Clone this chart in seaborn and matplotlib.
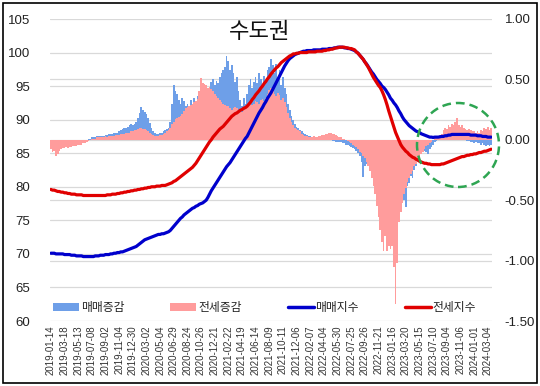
import matplotlib
matplotlib.use("Agg")
import matplotlib.pyplot as plt
import pandas as pd
import seaborn as sns
from matplotlib.patches import Ellipse, Rectangle, Patch
from matplotlib.lines import Line2D

# ---------------- data ----------------
tick_labels = [
    "2019-01-14", "2019-03-18", "2019-05-13", "2019-07-08", "2019-09-02", "2019-11-04",
    "2019-12-30", "2020-03-02", "2020-05-04", "2020-06-29", "2020-08-24", "2020-10-26",
    "2020-12-21", "2021-02-22", "2021-04-19", "2021-06-14", "2021-08-09", "2021-10-11",
    "2021-12-06", "2022-02-07", "2022-04-04", "2022-05-30", "2022-07-25", "2022-09-26",
    "2022-11-21", "2023-01-16", "2023-03-20", "2023-05-15", "2023-07-10", "2023-09-04",
    "2023-11-06", "2024-01-01", "2024-03-04",
]

# 매매지수 (left axis)
sale_idx = [
    70.1, 70.1, 70.1, 70.0, 70.0, 70.0, 70.0, 70.0, 69.9, 69.9,
    69.9, 69.9, 69.8, 69.8, 69.8, 69.7, 69.7, 69.7, 69.7, 69.6,
    69.6, 69.6, 69.6, 69.6, 69.6, 69.6, 69.7, 69.7, 69.7, 69.8,
    69.8, 69.8, 69.9, 69.9, 69.9, 70.0, 70.0, 70.1, 70.1, 70.2,
    70.2, 70.3, 70.3, 70.4, 70.5, 70.6, 70.7, 70.8, 70.9, 71.0,
    71.1, 71.3, 71.5, 71.7, 71.9, 72.1, 72.2, 72.3, 72.4, 72.5,
    72.6, 72.7, 72.8, 72.9, 72.9, 73.0, 73.0, 73.1, 73.2, 73.3,
    73.5, 73.8, 74.1, 74.4, 74.7, 75.0, 75.3, 75.5, 75.8, 76.0,
    76.2, 76.4, 76.6, 76.8, 76.9, 77.1, 77.2, 77.4, 77.5, 77.6,
    77.8, 78.0, 78.4, 78.9, 79.4, 79.8, 80.2, 80.6, 81.0, 81.4,
    81.8, 82.2, 82.6, 83.0, 83.3, 83.6, 84.0, 84.4, 84.8, 85.2,
    85.6, 86.0, 86.4, 86.8, 87.2, 87.5, 88.0, 88.5, 89.0, 89.5,
    90.0, 90.5, 91.0, 91.4, 91.8, 92.3, 92.7, 93.2, 93.6, 94.0,
    94.5, 95.0, 95.5, 96.0, 96.5, 97.0, 97.5, 98.0, 98.4, 98.8,
    99.1, 99.3, 99.5, 99.7, 99.8, 99.9, 100.0, 100.1, 100.2, 100.2,
    100.3, 100.3, 100.3, 100.3, 100.4, 100.4, 100.4, 100.4, 100.4, 100.5,
    100.5, 100.5, 100.5, 100.6, 100.6, 100.6, 100.7, 100.7, 100.8, 100.8,
    100.8, 100.8, 100.7, 100.7, 100.6, 100.6, 100.5, 100.4, 100.3, 100.1,
    99.9, 99.6, 99.3, 99.0, 98.6, 98.3, 97.9, 97.5, 97.1, 96.8,
    96.4, 96.0, 95.7, 95.4, 95.0, 94.8, 94.5, 94.1, 93.7, 93.2,
    92.9, 92.5, 92.2, 91.8, 91.3, 90.9, 90.4, 90.0, 89.7, 89.4,
    89.1, 88.9, 88.7, 88.5, 88.3, 88.2, 88.1, 87.9, 87.8, 87.7,
    87.6, 87.5, 87.4, 87.4, 87.35, 87.4, 87.4, 87.4, 87.45, 87.5,
    87.5, 87.6, 87.6, 87.7, 87.7, 87.8, 87.8, 87.8, 87.8, 87.8,
    87.8, 87.8, 87.8, 87.8, 87.8, 87.8, 87.7, 87.7, 87.7, 87.7,
    87.6, 87.6, 87.6, 87.5, 87.5, 87.5, 87.4, 87.4, 87.4,
]

# 전세지수 (left axis)
jeonse_idx = [
    79.6, 79.5, 79.5, 79.4, 79.3, 79.3, 79.2, 79.2, 79.1, 79.1,
    79.0, 79.0, 78.9, 78.9, 78.9, 78.8, 78.8, 78.8, 78.8, 78.7,
    78.7, 78.7, 78.7, 78.7, 78.7, 78.7, 78.7, 78.7, 78.7, 78.7,
    78.7, 78.7, 78.7, 78.8, 78.8, 78.8, 78.9, 78.9, 78.9, 79.0,
    79.0, 79.1, 79.1, 79.2, 79.2, 79.3, 79.3, 79.4, 79.4, 79.5,
    79.5, 79.6, 79.6, 79.7, 79.7, 79.8, 79.8, 79.9, 79.9, 80.0,
    80.0, 80.0, 80.1, 80.1, 80.1, 80.2, 80.2, 80.2, 80.3, 80.4,
    80.5, 80.6, 80.8, 80.9, 81.1, 81.3, 81.5, 81.7, 81.9, 82.1,
    82.3, 82.5, 82.7, 82.9, 83.2, 83.5, 83.9, 84.3, 84.7, 85.1,
    85.5, 85.9, 86.3, 86.7, 87.0, 87.4, 87.7, 88.0, 88.3, 88.6,
    88.8, 89.0, 89.3, 89.6, 89.9, 90.2, 90.5, 90.7, 90.9, 91.0,
    91.2, 91.4, 91.5, 91.7, 91.8, 92.0, 92.3, 92.6, 93.0, 93.3,
    93.7, 94.0, 94.3, 94.7, 95.0, 95.4, 95.7, 96.1, 96.4, 96.8,
    97.1, 97.4, 97.7, 97.9, 98.2, 98.5, 98.7, 98.9, 99.1, 99.3,
    99.5, 99.6, 99.8, 99.8, 99.9, 99.9, 100.0, 100.0, 100.0, 100.0,
    100.0, 100.1, 100.1, 100.1, 100.1, 100.1, 100.2, 100.2, 100.2, 100.2,
    100.3, 100.3, 100.4, 100.4, 100.5, 100.5, 100.6, 100.7, 100.7, 100.8,
    100.8, 100.8, 100.8, 100.7, 100.7, 100.6, 100.6, 100.5, 100.4, 100.1,
    99.9, 99.6, 99.3, 99.0, 98.6, 98.2, 97.8, 97.3, 96.8, 96.3,
    95.9, 95.5, 95.1, 94.8, 94.3, 93.7, 93.0, 92.2, 91.3, 90.5,
    89.7, 88.9, 88.1, 87.5, 86.9, 86.3, 85.9, 85.6, 85.3, 85.1,
    84.8, 84.6, 84.4, 84.3, 84.1, 84.0, 83.8, 83.7, 83.6, 83.5,
    83.5, 83.4, 83.4, 83.3, 83.3, 83.3, 83.3, 83.3, 83.3, 83.4,
    83.4, 83.5, 83.6, 83.7, 83.8, 83.9, 84.0, 84.1, 84.2, 84.3,
    84.4, 84.5, 84.5, 84.6, 84.7, 84.7, 84.8, 84.8, 84.9, 84.9,
    85.0, 85.1, 85.1, 85.2, 85.3, 85.3, 85.4, 85.5, 85.6,
]

# 매매증감 (right axis)
sale_chg = [
    -0.01, -0.02, -0.03, -0.04, -0.04, -0.05, -0.05, -0.05, -0.05, -0.04,
    -0.04, -0.04, -0.03, -0.03, -0.03, -0.02, -0.02, -0.02, -0.01, -0.01,
    -0.01, 0.00, 0.01, 0.01, 0.02, 0.02, 0.02, 0.03, 0.03, 0.03,
    0.03, 0.03, 0.04, 0.04, 0.05, 0.05, 0.05, 0.06, 0.06, 0.06,
    0.07, 0.08, 0.09, 0.10, 0.10, 0.11, 0.12, 0.13, 0.12, 0.13,
    0.15, 0.18, 0.22, 0.27, 0.25, 0.23, 0.21, 0.18, 0.14, 0.10,
    0.07, 0.06, 0.05, 0.05, 0.06, 0.06, 0.07, 0.08, 0.09, 0.10,
    0.15, 0.30, 0.45, 0.40, 0.38, 0.33, 0.30, 0.35, 0.32, 0.28,
    0.30, 0.27, 0.33, 0.29, 0.35, 0.31, 0.36, 0.40, 0.45, 0.42,
    0.42, 0.40, 0.41, 0.44, 0.48, 0.50, 0.45, 0.49, 0.47, 0.52,
    0.55, 0.58, 0.60, 0.69, 0.65, 0.58, 0.62, 0.55, 0.48, 0.52,
    0.40, 0.33, 0.28, 0.35, 0.30, 0.38, 0.45, 0.50, 0.43, 0.48,
    0.52, 0.47, 0.55, 0.50, 0.45, 0.53, 0.49, 0.58, 0.60, 0.67,
    0.62, 0.55, 0.63, 0.50, 0.58, 0.45, 0.52, 0.43, 0.38, 0.30,
    0.25, 0.20, 0.16, 0.13, 0.11, 0.10, 0.08, 0.07, 0.06, 0.05,
    0.04, 0.03, 0.03, 0.02, 0.02, 0.02, 0.01, 0.01, 0.01, 0.01,
    0.01, 0.01, 0.00, 0.00, 0.00, -0.01, -0.01, -0.02, -0.02, -0.02,
    -0.02, -0.03, -0.03, -0.04, -0.04, -0.05, -0.06, -0.07, -0.08, -0.09,
    -0.11, -0.13, -0.18, -0.31, -0.22, -0.20, -0.20, -0.22, -0.26, -0.30,
    -0.33, -0.38, -0.42, -0.45, -0.50, -0.55, -0.55, -0.60, -0.62, -0.65,
    -0.62, -0.60, -0.58, -0.55, -0.50, -0.48, -0.45, -0.50, -0.56, -0.38,
    -0.36, -0.30, -0.32, -0.25, -0.22, -0.18, -0.16, -0.12, -0.10, -0.09,
    -0.10, -0.12, -0.08, -0.06, -0.04, -0.02, -0.01, 0.00, 0.01, 0.01,
    0.02, 0.03, 0.03, 0.04, 0.04, 0.05, 0.05, 0.06, 0.05, 0.05,
    0.03, 0.02, 0.01, 0.00, -0.01, -0.01, -0.02, -0.02, -0.03, -0.02,
    -0.03, -0.03, -0.04, -0.03, -0.04, -0.05, -0.04, -0.05, -0.04,
]

# 전세증감 (right axis)
jeonse_chg = [
    -0.08, -0.10, -0.09, -0.13, -0.12, -0.09, -0.08, -0.07, -0.07, -0.06,
    -0.07, -0.06, -0.06, -0.05, -0.05, -0.05, -0.04, -0.04, -0.04, -0.03,
    -0.03, -0.02, -0.01, 0.00, 0.01, 0.01, 0.01, 0.02, 0.02, 0.02,
    0.02, 0.02, 0.03, 0.02, 0.03, 0.03, 0.03, 0.03, 0.04, 0.04,
    0.04, 0.05, 0.05, 0.05, 0.06, 0.06, 0.06, 0.07, 0.07, 0.08,
    0.08, 0.09, 0.10, 0.10, 0.09, 0.09, 0.08, 0.07, 0.06, 0.05,
    0.04, 0.03, 0.03, 0.03, 0.04, 0.04, 0.05, 0.06, 0.07, 0.08,
    0.10, 0.13, 0.15, 0.17, 0.18, 0.19, 0.20, 0.21, 0.24, 0.26,
    0.27, 0.28, 0.29, 0.30, 0.31, 0.32, 0.34, 0.40, 0.51, 0.47,
    0.46, 0.45, 0.43, 0.44, 0.42, 0.40, 0.38, 0.36, 0.35, 0.33,
    0.31, 0.30, 0.29, 0.28, 0.28, 0.26, 0.25, 0.26, 0.27, 0.26,
    0.25, 0.24, 0.23, 0.25, 0.27, 0.29, 0.30, 0.31, 0.29, 0.30,
    0.32, 0.31, 0.30, 0.33, 0.34, 0.32, 0.35, 0.38, 0.41, 0.43,
    0.40, 0.38, 0.36, 0.39, 0.37, 0.33, 0.35, 0.31, 0.27, 0.22,
    0.18, 0.15, 0.12, 0.10, 0.09, 0.08, 0.07, 0.05, 0.04, 0.03,
    0.03, 0.02, 0.02, 0.02, 0.03, 0.02, 0.02, 0.03, 0.03, 0.04,
    0.04, 0.05, 0.05, 0.06, 0.06, 0.05, 0.05, 0.04, 0.03, 0.02,
    0.02, 0.01, 0.01, 0.00, -0.01, -0.02, -0.03, -0.04, -0.05, -0.06,
    -0.08, -0.10, -0.11, -0.13, -0.15, -0.18, -0.22, -0.26, -0.32, -0.38,
    -0.45, -0.55, -0.64, -0.75, -0.85, -0.92, -0.80, -0.92, -0.88, -0.90,
    -0.88, -1.05, -1.36, -1.02, -0.68, -0.60, -0.52, -0.45, -0.40, -0.35,
    -0.32, -0.28, -0.26, -0.22, -0.20, -0.17, -0.15, -0.12, -0.10, -0.08,
    -0.05, -0.04, -0.03, -0.02, 0.00, 0.02, 0.03, 0.03, 0.04, 0.05,
    0.08, 0.10, 0.09, 0.12, 0.11, 0.13, 0.12, 0.15, 0.18, 0.12,
    0.11, 0.12, 0.10, 0.09, 0.08, 0.09, 0.08, 0.07, 0.07, 0.06,
    0.07, 0.06, 0.08, 0.07, 0.10, 0.09, 0.11, 0.08, 0.10,
]

legend_names = ["매매증감", "전세증감", "매매지수", "전세지수"]
title_text = "수도권"

# ---------------- style ----------------
sns.set_theme(style="white")
plt.rcParams["font.family"] = ["Liberation Sans", "Noto Sans CJK KR"]

C_SALE_BAR = "#6E9FE8"
C_JEON_BAR = "#FF9C9C"
C_SALE_LINE = "#0000CC"
C_JEON_LINE = "#E00000"
C_GRID = "#D9D9D9"

n = len(sale_idx)
df = pd.DataFrame({
    "week": list(range(n)),
    "sale_chg": sale_chg,
    "jeonse_chg": jeonse_chg,
    "sale_idx": sale_idx,
    "jeonse_idx": jeonse_idx,
})

W, H = 540, 386
fig = plt.figure(figsize=(W / 100, H / 100), dpi=100)
L, R, T, B = 50, 492, 19, 321
ax = fig.add_axes([L / W, 1 - B / H, (R - L) / W, (B - T) / H])

# bars on the primary axis (labelled on the right)
sns.barplot(data=df, x="week", y="sale_chg", color=C_SALE_BAR, saturation=1,
            width=1.0, linewidth=0, edgecolor="none", errorbar=None, ax=ax)
sns.barplot(data=df, x="week", y="jeonse_chg", color=C_JEON_BAR, saturation=1,
            width=1.0, linewidth=0, edgecolor="none", errorbar=None, ax=ax)
right_ticks = [-1.5, -1.0, -0.5, 0.0, 0.5, 1.0]
ax.set_ylim(-1.5, 1.0)
ax.set_yticks(right_ticks)
ax.set_yticklabels([f"{v:.2f}" for v in right_ticks])
# left-axis gridlines (60..105 step 5) expressed in right-axis units
left_vals = list(range(60, 110, 5))
ax.set_yticks([(v - 60) / 45 * 2.5 - 1.5 for v in left_vals], minor=True)
ax.grid(axis="y", which="both", color=C_GRID, linewidth=0.9)
ax.grid(axis="x", visible=False)
ax.set_axisbelow(True)

# lines on twin axis (labelled on the left)
ax2 = ax.twinx()
sns.lineplot(data=df, x="week", y="sale_idx", color=C_SALE_LINE, linewidth=2.3, ax=ax2)
sns.lineplot(data=df, x="week", y="jeonse_idx", color=C_JEON_LINE, linewidth=2.3, ax=ax2)
ax2.set_ylim(60, 105)
ax2.set_yticks(left_vals)
ax2.grid(False)

# swap sides: bars' axis on the right, lines' axis on the left
ax.yaxis.tick_right()
ax.yaxis.set_label_position("right")
ax2.yaxis.tick_left()
ax2.yaxis.set_label_position("left")

for a in (ax, ax2):
    for s in a.spines.values():
        s.set_visible(False)
    a.set_xlabel("")
    a.set_ylabel("")
    a.tick_params(which="both", length=0)

ax.set_xticks(list(range(0, 8 * len(tick_labels), 8)))
ax.set_xticklabels(tick_labels, rotation=90, fontsize=7, color="#333333")
ax.tick_params(axis="x", pad=3)
ax.tick_params(axis="y", labelsize=9.5, colors="#222222", pad=9, labelright=True, labelleft=False)
ax2.tick_params(axis="y", labelsize=9.5, colors="#222222", pad=14, labelleft=True, labelright=False)
ax2.tick_params(axis="x", labelbottom=False)
ax.set_xlim(-0.5, n - 0.5)
ax2.set_xlim(-0.5, n - 0.5)

# legend
handles = [
    Patch(facecolor=C_SALE_BAR, edgecolor="none"),
    Patch(facecolor=C_JEON_BAR, edgecolor="none"),
    Line2D([], [], color=C_SALE_LINE, linewidth=2.5),
    Line2D([], [], color=C_JEON_LINE, linewidth=2.5),
]
leg = ax2.legend(handles, legend_names, loc="center left",
                 bbox_to_anchor=(0.007, (B - 308) / (B - T)), ncol=4, frameon=False,
                 fontsize=8.5, handlelength=2.2, handleheight=0.75, handletextpad=0.15,
                 columnspacing=3.9, borderpad=0, borderaxespad=0)
for t in leg.get_texts():
    t.set_color("#222222")

# green dashed highlight ellipse
ell = Ellipse(((458 - L) / (R - L), (B - 145) / (B - T)), 82 / (R - L), 84 / (B - T),
              transform=ax2.transAxes, fill=False, edgecolor="#2EA552",
              linestyle=(0, (3.5, 2)), linewidth=1.8, clip_on=False, zorder=10)
ax2.add_patch(ell)

# title
fig.text(260 / W, 1 - 32 / H, title_text, ha="center", va="center", fontsize=16,
         color="#111111", family=["Noto Sans CJK KR", "DejaVu Sans"])

# outer border
fig.patches.append(Rectangle((3 / W, 3 / H), 534 / W, 380 / H, transform=fig.transFigure,
                             fill=False, edgecolor="black", linewidth=1.2))

fig.savefig("out.png", dpi=100)
